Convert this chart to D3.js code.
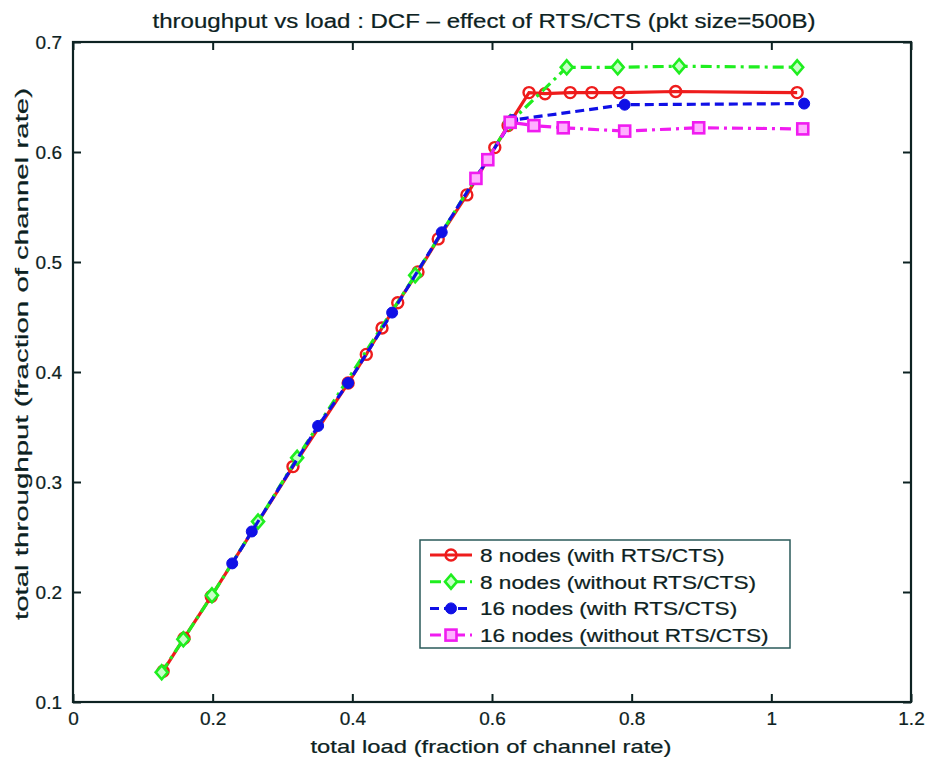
<!DOCTYPE html>
<html><head><meta charset="utf-8">
<script src="https://cdn.jsdelivr.net/npm/d3@7"></script>
<style>body{margin:0;background:#fff}svg{display:block}text{font-family:"Liberation Sans",Arial,sans-serif;fill:#0d2222;stroke:#0d2222;stroke-width:0.22px}</style>
</head><body><svg id="c" width="930" height="763"></svg>
<script>
// ---- data ----
const titleText = "throughput vs load : DCF \u2013 effect  of RTS/CTS (pkt size=500B)";
const xLabel = "total load (fraction of channel rate)";
const yLabel = "total throughput (fraction of channel rate)";
const xTicks = [0, 0.2, 0.4, 0.6, 0.8, 1, 1.2];
const yTicks = [0.1, 0.2, 0.3, 0.4, 0.5, 0.6, 0.7];
const seriesNames = ["8 nodes (with RTS/CTS)", "8 nodes (without RTS/CTS)", "16 nodes (with RTS/CTS)", "16 nodes (without RTS/CTS)"];

const red8Load = [0.129, 0.159, 0.198, 0.315, 0.394, 0.420, 0.4425, 0.465, 0.494, 0.523, 0.564, 0.604, 0.623, 0.653, 0.676, 0.712, 0.743, 0.782, 0.863, 1.037];
const red8Thr  = [0.128, 0.158, 0.196, 0.314, 0.390, 0.416, 0.440, 0.463, 0.491, 0.521, 0.561, 0.604, 0.624, 0.654, 0.653, 0.654, 0.654, 0.654, 0.655, 0.654];

const green8Load = [0.127, 0.158, 0.199, 0.265, 0.321, 0.490, 0.626, 0.707, 0.780, 0.868, 1.037];
const green8Thr  = [0.127, 0.157, 0.197, 0.264, 0.322, 0.488, 0.627, 0.677, 0.677, 0.678, 0.677];

const blue16Load = [0.228, 0.256, 0.351, 0.394, 0.457, 0.528, 0.629, 0.790, 1.047];
const blue16Thr  = [0.226, 0.255, 0.351, 0.390, 0.454, 0.527, 0.629, 0.643, 0.644];

const mag16Load = [0.577, 0.594, 0.626, 0.660, 0.702, 0.790, 0.896, 1.045];
const mag16Thr  = [0.576, 0.593, 0.627, 0.624, 0.622, 0.619, 0.622, 0.621];

// ---- chart ----
const svg = d3.select("#c");
const x = d3.scaleLinear().domain([0, 1.2]).range([73, 911]);
const y = d3.scaleLinear().domain([0.1, 0.7]).range([702, 42]);
const ink = "#0d2222";

function stretchText(sel, k) {
  sel.each(function () { const w = this.getComputedTextLength(); d3.select(this).attr("textLength", w * k).attr("lengthAdjust", "spacingAndGlyphs"); });
}

const fmt = d => (d === 0 || d === 1) ? String(d) : d3.format(".1f")(d);
const ax = (g) => { g.select(".domain").remove(); g.selectAll(".tick line").attr("stroke", ink).attr("stroke-width", 2); g.selectAll(".tick text").attr("font-size", 19).attr("fill", ink).attr("font-family", '"Liberation Sans",Arial,sans-serif'); };

svg.append("g").attr("transform", `translate(0,${y(0.1)})`)
  .call(d3.axisBottom(x).tickValues(xTicks).tickFormat(fmt).tickSizeInner(-8).tickSizeOuter(0).tickPadding(10)).call(ax);
svg.append("g").attr("transform", `translate(0,${y(0.7)})`)
  .call(d3.axisTop(x).tickValues(xTicks).tickFormat("").tickSizeInner(-8).tickSizeOuter(0)).call(ax);
svg.append("g").attr("transform", `translate(${x(0)},0)`)
  .call(d3.axisLeft(y).tickValues(yTicks).tickFormat(d3.format(".1f")).tickSizeInner(-8).tickSizeOuter(0).tickPadding(11)).call(ax);
svg.append("g").attr("transform", `translate(${x(1.2)},0)`)
  .call(d3.axisRight(y).tickValues(yTicks).tickFormat("").tickSizeInner(-8).tickSizeOuter(0)).call(ax);

svg.append("rect").attr("x", x(0)).attr("y", y(0.7)).attr("width", x(1.2) - x(0)).attr("height", y(0.1) - y(0.7))
  .attr("fill", "none").attr("stroke", ink).attr("stroke-width", 2.2);

// series
const series = [
  { load: red8Load, thr: red8Thr, color: "#ee1c1c", dash: null, marker: "circle" },
  { load: green8Load, thr: green8Thr, color: "#1fee1f", dash: "11,5,3,5", marker: "diamond" },
  { load: blue16Load, thr: blue16Thr, color: "#1010e6", dash: "9,5", marker: "dot" },
  { load: mag16Load, thr: mag16Thr, color: "#f01cf0", dash: "11,5,3,5", marker: "square" }
];
const line = d3.line().x(d => x(d[0])).y(d => y(d[1]));

function drawMarker(g, type, cx, cy, color) {
  if (type === "circle") g.append("circle").attr("cx", cx).attr("cy", cy).attr("r", 5.5).attr("fill", "none").attr("stroke", color).attr("stroke-width", 2.4);
  else if (type === "diamond") g.append("path").attr("d", `M${cx},${cy-7}L${cx+6},${cy}L${cx},${cy+7}L${cx-6},${cy}Z`).attr("fill", "#c8ffc8").attr("stroke", color).attr("stroke-width", 2.6);
  else if (type === "dot") g.append("circle").attr("cx", cx).attr("cy", cy).attr("r", 5.5).attr("fill", color).attr("stroke", color).attr("stroke-width", 1);
  else if (type === "square") g.append("rect").attr("x", cx - 5.5).attr("y", cy - 5.5).attr("width", 11).attr("height", 11).attr("fill", "#ffb0ff").attr("stroke", color).attr("stroke-width", 2.6);
}

series.forEach(s => {
  const pts = s.load.map((l, i) => [l, s.thr[i]]);
  const g = svg.append("g");
  g.append("path").datum(pts).attr("d", line).attr("fill", "none").attr("stroke", s.color).attr("stroke-width", 3.2)
    .attr("stroke-dasharray", s.dash);
  pts.forEach(p => drawMarker(g, s.marker, x(p[0]), y(p[1]), s.color));
});

// title and labels
svg.append("text").attr("x", 484).attr("y", 28).attr("text-anchor", "middle").attr("font-size", 20).text(titleText).attr("textLength", 663).attr("lengthAdjust", "spacingAndGlyphs");
svg.append("text").attr("x", 491).attr("y", 753).attr("text-anchor", "middle").attr("font-size", 19).text(xLabel).attr("textLength", 361).attr("lengthAdjust", "spacingAndGlyphs");
svg.append("text").attr("transform", "translate(28,354) rotate(-90)").attr("text-anchor", "middle").attr("font-size", 19).text(yLabel).attr("textLength", 532).attr("lengthAdjust", "spacingAndGlyphs");

// legend
const lg = svg.append("g");
lg.append("rect").attr("x", 420).attr("y", 540).attr("width", 370).attr("height", 108).attr("fill", "#fff").attr("stroke", "#2a5a5a").attr("stroke-width", 1.5);
series.forEach((s, i) => {
  const cy = 555 + i * 26.7;
  lg.append("line").attr("x1", 430).attr("x2", 472).attr("y1", cy).attr("y2", cy).attr("stroke", s.color).attr("stroke-width", 3).attr("stroke-dasharray", s.dash);
  drawMarker(lg, s.marker, 451, cy, s.color);
  lg.append("text").attr("x", 480).attr("y", cy + 7).attr("font-size", 19).text(seriesNames[i]).call(stretchText, 1.19);
});
</script></body></html>
